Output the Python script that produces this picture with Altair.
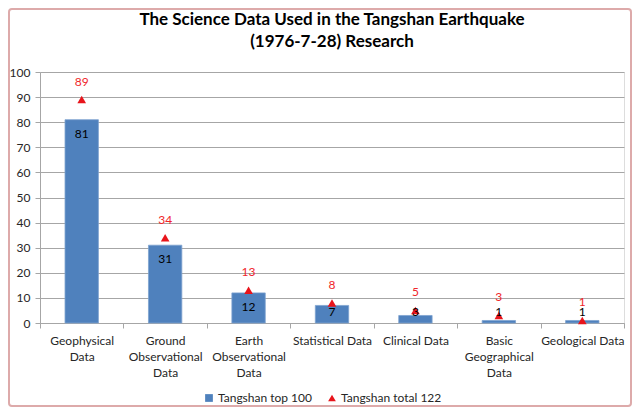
import altair as alt
import pandas as pd

categories = ["Geophysical\nData", "Ground\nObservational\nData", "Earth\nObservational\nData",
              "Statistical Data", "Clinical Data", "Basic\nGeographical\nData", "Geological Data"]
top100 = [81, 31, 12, 7, 3, 1, 1]
total122 = [89, 34, 13, 8, 5, 3, 1]
series_names = ["Tangshan top 100", "Tangshan total 122"]
y_ticks = list(range(0, 101, 10))
title_lines = ["The Science Data Used in the Tangshan Earthquake", "(1976-7-28) Research"]

df = pd.DataFrame({"category": categories, "top": top100, "total": total122})

FONT = "Lato"
BLUE = "#4F81BD"
RED = "#E8141B"
GRID = "#A6A6A6"
TXT = "#262626"

color_scale = alt.Scale(domain=series_names, range=[BLUE, RED])
shape_scale = alt.Scale(domain=series_names, range=["square", "triangle-up"])
legend = alt.Legend(title=None, orient="none", legendX=163, legendY=320, direction="horizontal",
                    labelFont=FONT, labelFontSize=12, labelColor=TXT, symbolSize=60,
                    labelOffset=3, columnPadding=14, padding=0, symbolStrokeWidth=0)

x_axis = alt.Axis(labelAngle=0, labelExpr="datum.value ? split(datum.value, '\\n') : ''",
                  tickBand="extent", labelLineHeight=16, labelPadding=7,
                  tickSize=5, tickColor=GRID, domainColor=GRID, grid=False,
                  labelFont=FONT, labelFontSize=12, labelColor=TXT,
                  labelOverlap=False, labelBaseline="top")
y_axis = alt.Axis(values=y_ticks, tickSize=5, tickColor=GRID, domainColor=GRID,
                  gridColor=GRID, labelFont=FONT, labelFontSize=12, labelColor=TXT,
                  labelPadding=5)
x_enc = alt.X("category:N", sort=categories, title=None,
              scale=alt.Scale(paddingInner=0, paddingOuter=0), axis=x_axis)
y_scale = alt.Scale(domain=[0, 100], nice=False)


def y_enc(field):
    return alt.Y(field, scale=y_scale, title=None, axis=y_axis)


base = alt.Chart(df)

bars = base.mark_bar(width=alt.RelativeBandSize(0.4), stroke="#7EA2CF", strokeWidth=0.8).transform_calculate(
    series="'" + series_names[0] + "'"
).encode(
    x=x_enc,
    y=y_enc("top:Q"),
    color=alt.Color("series:N", scale=color_scale, legend=legend),
    shape=alt.Shape("series:N", scale=shape_scale, legend=legend),
)

tris = base.mark_point(filled=True, size=75, opacity=1).transform_calculate(
    series="'" + series_names[1] + "'"
).encode(
    x=x_enc,
    y=y_enc("total:Q"),
    color=alt.Color("series:N", scale=color_scale, legend=legend),
    shape=alt.Shape("series:N", scale=shape_scale, legend=legend),
)

bar_labels = base.mark_text(font=FONT, fontSize=12, color="#000000", baseline="middle").transform_calculate(
    lab_y="max(datum.top - 5.7, 4.35)"
).encode(
    x=x_enc,
    y=y_enc("lab_y:Q"),
    text=alt.Text("top:Q"),
)

tot_labels = base.mark_text(font=FONT, fontSize=12, color="#F0262B", baseline="middle", dy=-18).encode(
    x=x_enc,
    y=y_enc("total:Q"),
    text=alt.Text("total:Q"),
)

frame = alt.Chart(pd.DataFrame({"f": [0]})).mark_rect(
    fill=None, stroke="#DDAAAA", strokeWidth=2, cornerRadius=3
).encode(
    x=alt.value(-31), x2=alt.value(591), y=alt.value(-63), y2=alt.value(334)
)

chart = alt.layer(bars, tris, bar_labels, tot_labels, frame).properties(
    width=584, height=251,
    padding={"left": 32, "top": 64, "right": 8, "bottom": 84},
    autosize=alt.AutoSizeParams(type="none"),
    title=alt.Title(text=title_lines, font=FONT, fontSize=17, fontWeight="bold", color="#000000",
                    lineHeight=22, offset=0, dy=43, anchor="middle"),
).configure_view(stroke=None).configure(background="white")

chart.save("out.html", embed_options={"renderer": "svg", "actions": False})
